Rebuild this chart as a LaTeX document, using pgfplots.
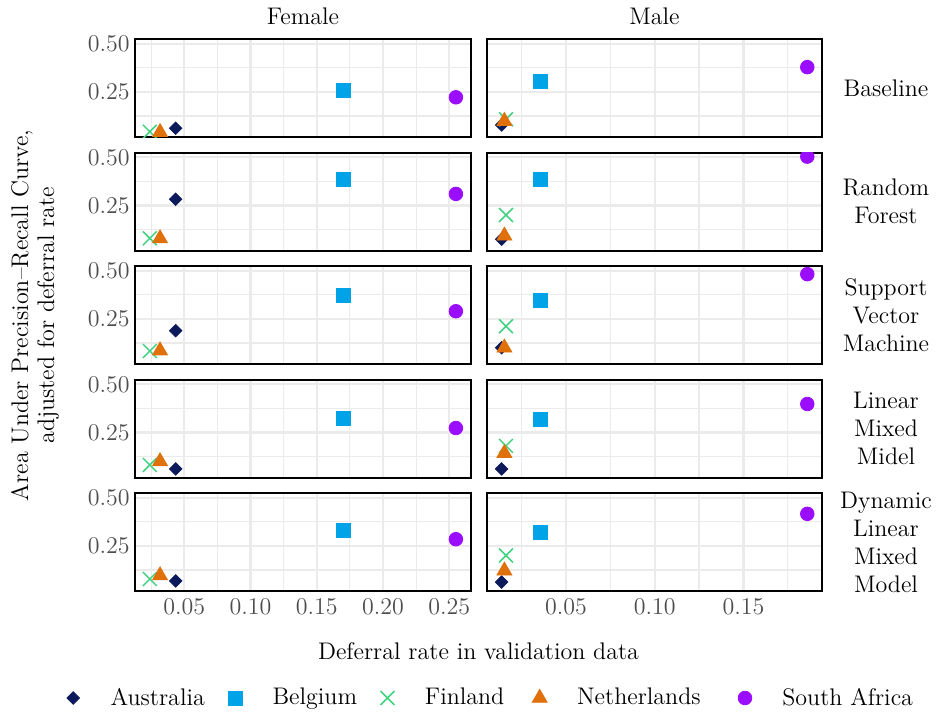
\documentclass[border=0pt]{standalone}
\usepackage{pgfplots}
\pgfplotsset{compat=1.18}
\definecolor{ausc}{HTML}{0C1A5B}
\definecolor{belc}{HTML}{00A2E8}
\definecolor{finc}{HTML}{3FD27F}
\definecolor{nethc}{HTML}{E0700A}
\definecolor{sac}{HTML}{9A0DFF}
\definecolor{gridc}{HTML}{EBEBEB}
\definecolor{tickc}{HTML}{4D4D4D}
\pgfplotsset{
  panel/.style={scale only axis, height=49pt, anchor=south west,
    ymin=0.014, ymax=0.524, ytick={0.25,0.5}, minor ytick={0.125,0.375},
    grid=both, major grid style={color=gridc, line width=1.1pt},
    minor grid style={color=gridc, line width=0.55pt},
    axis line style={line width=1.2pt, black},
    tick style={draw=none}, major tick length=0pt, minor tick length=0pt,
    clip marker paths=true, ticklabel style={color=tickc},
    yticklabel style={inner xsep=2.5pt},
    xticklabel style={inner ysep=3.5pt},
    xticklabels={}, yticklabels={}},
  female/.style={panel, width=168pt, xmin=0.0128, xmax=0.2664,
    xtick={0.05,0.10,0.15,0.20,0.25}, minor xtick={0.025,0.075,0.125,0.175,0.225},
    yticklabels={0.25,0.50}},
  male/.style={panel, width=167.5pt, xmin=0.0055, xmax=0.1943,
    xtick={0.05,0.10,0.15}, minor xtick={0.025,0.075,0.125,0.175}},
  aus/.style={only marks, mark=square*, mark size=2.2pt, color=ausc, mark options={rotate=45, fill=ausc, draw=ausc}},
  bel/.style={only marks, mark=square*, mark size=3.5pt, color=belc, mark options={fill=belc, draw=belc}},
  fin/.style={only marks, mark=x, mark size=4.9pt, color=finc, mark options={line width=0.75pt}},
  neth/.style={only marks, mark=triangle*, mark size=4.3pt, color=nethc, mark options={fill=nethc, draw=nethc}},
  sa/.style={only marks, mark=*, mark size=3.4pt, color=sac, mark options={fill=sac, draw=sac}},
}
% Female x: Aus 0.0435, Bel 0.170, Fin 0.024, Neth 0.0317, SA 0.255
% Male x: Aus 0.0137, Bel 0.0355, Fin 0.0162, Neth 0.0153, SA 0.186
\begin{document}
\begin{tikzpicture}[font=\fontsize{12}{14}\selectfont]
\useasboundingbox (0,0) rectangle (468.5pt,357.5pt);
% Row 1: Baseline
\begin{axis}[female, at={(67.5pt,288.85pt)}]
\addplot[aus] coordinates {(0.0435,0.061)};
\addplot[bel] coordinates {(0.170,0.260)};
\addplot[fin] coordinates {(0.024,0.043)};
\addplot[neth] coordinates {(0.0317,0.040)};
\addplot[sa] coordinates {(0.255,0.222)};
\end{axis}
\begin{axis}[male, at={(243.5pt,288.85pt)}]
\addplot[aus] coordinates {(0.0137,0.078)};
\addplot[bel] coordinates {(0.0355,0.304)};
\addplot[fin] coordinates {(0.0162,0.108)};
\addplot[neth] coordinates {(0.0153,0.098)};
\addplot[sa] coordinates {(0.186,0.379)};
\end{axis}
% Row 2: Random Forest
\begin{axis}[female, at={(67.5pt,232.1pt)}]
\addplot[aus] coordinates {(0.0435,0.282)};
\addplot[bel] coordinates {(0.170,0.388)};
\addplot[fin] coordinates {(0.024,0.079)};
\addplot[neth] coordinates {(0.0317,0.078)};
\addplot[sa] coordinates {(0.255,0.310)};
\end{axis}
\begin{axis}[male, at={(243.5pt,232.1pt)}]
\addplot[aus] coordinates {(0.0137,0.074)};
\addplot[bel] coordinates {(0.0355,0.383)};
\addplot[fin] coordinates {(0.0162,0.200)};
\addplot[neth] coordinates {(0.0153,0.092)};
\addplot[sa] coordinates {(0.186,0.504)};
\end{axis}
% Row 3: Support Vector Machine
\begin{axis}[female, at={(67.5pt,175.35pt)}]
\addplot[aus] coordinates {(0.0435,0.189)};
\addplot[bel] coordinates {(0.170,0.370)};
\addplot[fin] coordinates {(0.024,0.083)};
\addplot[neth] coordinates {(0.0317,0.085)};
\addplot[sa] coordinates {(0.255,0.290)};
\end{axis}
\begin{axis}[male, at={(243.5pt,175.35pt)}]
\addplot[aus] coordinates {(0.0137,0.100)};
\addplot[bel] coordinates {(0.0355,0.349)};
\addplot[fin] coordinates {(0.0162,0.212)};
\addplot[neth] coordinates {(0.0153,0.100)};
\addplot[sa] coordinates {(0.186,0.483)};
\end{axis}
% Row 4: Linear Mixed Midel
\begin{axis}[female, at={(67.5pt,118.6pt)}]
\addplot[aus] coordinates {(0.0435,0.060)};
\addplot[bel] coordinates {(0.170,0.322)};
\addplot[fin] coordinates {(0.024,0.081)};
\addplot[neth] coordinates {(0.0317,0.099)};
\addplot[sa] coordinates {(0.255,0.273)};
\end{axis}
\begin{axis}[male, at={(243.5pt,118.6pt)}]
\addplot[aus] coordinates {(0.0137,0.060)};
\addplot[bel] coordinates {(0.0355,0.317)};
\addplot[fin] coordinates {(0.0162,0.180)};
\addplot[neth] coordinates {(0.0153,0.142)};
\addplot[sa] coordinates {(0.186,0.398)};
\end{axis}
% Row 5: Dynamic Linear Mixed Model
\begin{axis}[female, at={(67.5pt,61.85pt)}, xticklabels={0.05,0.10,0.15,0.20,0.25},
  legend columns=5,
  legend style={at={(-0.207,-1.0888)}, anchor=west, draw=none, fill=none,
    inner sep=0pt, nodes={inner sep=0pt, text=black, font=\fontsize{12}{14}\selectfont},
    /tikz/every even column/.append style={column sep=11.5pt}},
  legend image code/.code={\draw[mark repeat=2,mark phase=2,#1] plot coordinates {(0pt,0pt) (0pt,0pt) (0pt,0pt)}; \path (-3.5pt,0pt) (18.5pt,0pt);}]
\addplot[aus] coordinates {(0.0435,0.068)};
\addlegendentry{Australia}
\addplot[bel] coordinates {(0.170,0.330)};
\addlegendentry{Belgium}
\addplot[fin] coordinates {(0.024,0.078)};
\addlegendentry{Finland\rule{2.5pt}{0pt}}
\addplot[neth] coordinates {(0.0317,0.096)};
\addlegendentry{Netherlands\rule{7pt}{0pt}}
\addplot[sa] coordinates {(0.255,0.285)};
\addlegendentry{South Africa}
\end{axis}
\begin{axis}[male, at={(243.5pt,61.85pt)}, xticklabels={0.05,0.10,0.15}]
\addplot[aus] coordinates {(0.0137,0.062)};
\addplot[bel] coordinates {(0.0355,0.319)};
\addplot[fin] coordinates {(0.0162,0.200)};
\addplot[neth] coordinates {(0.0153,0.121)};
\addplot[sa] coordinates {(0.186,0.417)};
\end{axis}
% strip labels
\node[anchor=base] at (151.5pt,345pt) {Female};
\node[anchor=base] at (327.25pt,345pt) {Male};
\node[align=center] at (443pt,313.35pt) {Baseline};
\node[align=center] at (443pt,256.6pt) {Random\\Forest};
\node[align=center] at (443pt,199.85pt) {Support\\Vector\\Machine};
\node[align=center] at (443pt,143.1pt) {Linear\\Mixed\\Midel};
\node[align=center] at (443pt,86.35pt) {Dynamic\\Linear\\Mixed\\Model};
% axis titles
\node[anchor=base] at (239.25pt,27.5pt) {Deferral rate in validation data};
\node[rotate=90, align=center, font=\fontsize{12}{13}\selectfont] at (17.5pt,199.85pt) {Area Under Precision--Recall Curve,\\adjusted for deferral rate};
\end{tikzpicture}
\end{document}
